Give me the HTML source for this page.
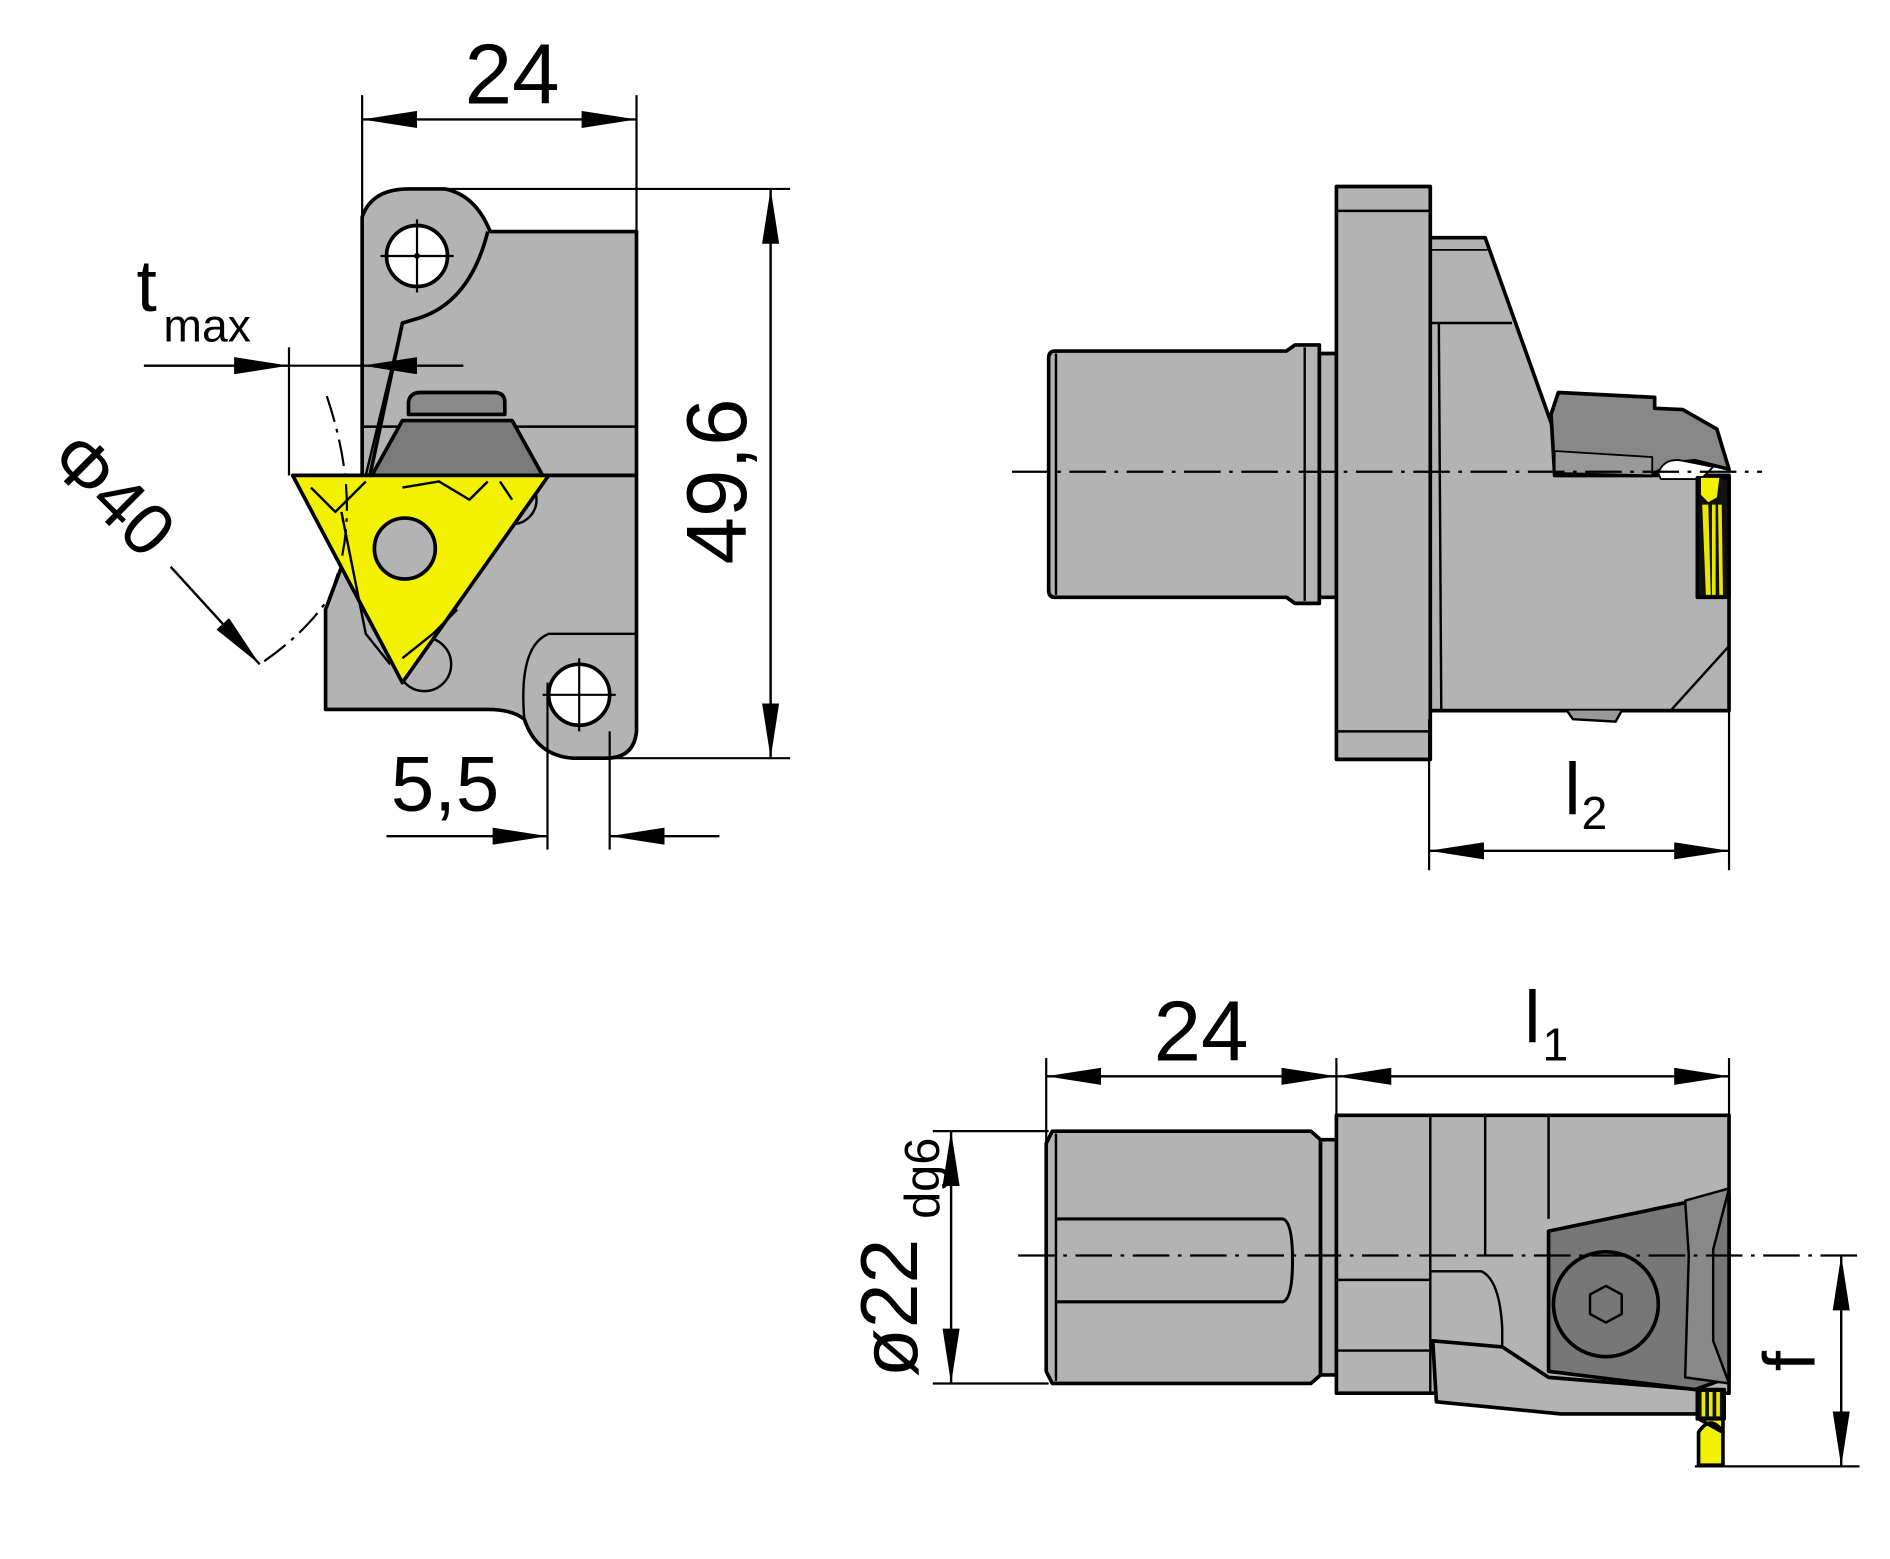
<!DOCTYPE html>
<html><head><meta charset="utf-8"><style>
html,body{margin:0;padding:0;background:#fff;}
svg{display:block;}
text{font-family:"Liberation Sans",sans-serif;fill:#000;}
</style></head><body>
<svg width="1890" height="1559" viewBox="0 0 1550 1279" preserveAspectRatio="none" xmlns="http://www.w3.org/2000/svg">
<defs>
<marker id="a" viewBox="0 0 45 14" refX="45" refY="7" markerWidth="45" markerHeight="14" markerUnits="userSpaceOnUse" orient="auto-start-reverse"><path d="M0,0 L45,7 L0,14z" fill="#000"/></marker>
</defs>
<g stroke="#000" stroke-width="3" stroke-linejoin="round">
<!-- ===== VIEW 1 ===== -->
<path d="M297,178 Q305,155 335,155 L365,155 Q390,160 402,190 L522,190 L522,600 Q520,622 497,622 L470,622 Q440,620 430,590 Q420,582 400,582 L267,582 L267,500 L297,420 Z" fill="#b3b3b3"/>
<path d="M400,190 Q385,250 340,262 L330,265 L297,420" fill="none"/>
<path d="M430,590 Q425,530 450,520 L522,520" fill="none" stroke-width="2"/>
<line x1="297" y1="350" x2="522" y2="350" stroke-width="2"/>
<line x1="297" y1="390" x2="522" y2="390"/>
<line x1="330" y1="265" x2="300" y2="390" stroke-width="2"/>
<circle cx="342" cy="210" r="25" fill="#fff"/>
<circle cx="475" cy="570" r="25" fill="#fff"/>
<circle cx="348" cy="545" r="22" fill="#b3b3b3" stroke-width="2"/>
<circle cx="420" cy="410" r="20" fill="#b3b3b3" stroke-width="2"/>
<path d="M335,330 Q336,322 345,322 L405,322 Q414,322 414,330 L414,340 L335,340Z" fill="#8a8a8a"/>
<path d="M330,345 L420,345 L445,390 L305,390Z" fill="#7a7a7a"/>
<path d="M240,390 L450,390 L330,560 Z" fill="#f2f200"/>
<path d="M255,400 L275,420 L300,395 M330,400 L360,395 L385,410 L400,395 M410,395 L420,410 M280,420 L300,520 L320,545 M330,540 L355,520 L375,500" fill="none" stroke-width="2"/>
<circle cx="332" cy="450" r="25" fill="#b3b3b3"/>
</g>
<g stroke="#000" stroke-width="1.8" fill="none">
<circle cx="342" cy="210" r="1.5" fill="#000"/>
<line x1="342" y1="180" x2="342" y2="240"/><line x1="312" y1="210" x2="372" y2="210"/>
<line x1="475" y1="540" x2="475" y2="600"/><line x1="445" y1="570" x2="505" y2="570"/>
<path d="M268,325 Q300,420 270,490 Q250,520 213,545" stroke-dasharray="22,6,3,6"/>
<line x1="297" y1="78" x2="297" y2="178"/><line x1="522" y1="78" x2="522" y2="190"/>
<line x1="297" y1="98" x2="522" y2="98" marker-start="url(#a)" marker-end="url(#a)" stroke-width="2"/>
<line x1="330" y1="155" x2="648" y2="155"/><line x1="497" y1="622" x2="648" y2="622"/>
<line x1="632" y1="155" x2="632" y2="622" marker-start="url(#a)" marker-end="url(#a)" stroke-width="2"/>
<line x1="237" y1="285" x2="237" y2="390"/>
<line x1="118" y1="300" x2="237" y2="300" marker-end="url(#a)" stroke-width="2"/>
<line x1="380" y1="300" x2="297" y2="300" marker-end="url(#a)" stroke-width="2"/>
<line x1="237" y1="300" x2="297" y2="300"/>
<line x1="140" y1="465" x2="213" y2="545" marker-end="url(#a)" stroke-width="2"/>
<line x1="449" y1="560" x2="449" y2="697"/><line x1="500" y1="600" x2="500" y2="697"/>
<line x1="317" y1="686" x2="449" y2="686" marker-end="url(#a)" stroke-width="2"/>
<line x1="590" y1="686" x2="500" y2="686" marker-end="url(#a)" stroke-width="2"/>
</g>
<text x="420" y="85" font-size="70" text-anchor="middle">24</text>
<text transform="translate(612,395) rotate(-90)" font-size="70" text-anchor="middle">49,6</text>
<text x="112" y="255" font-size="60">t</text>
<text x="134" y="280" font-size="38">max</text>
<text transform="translate(78,420) rotate(45)" font-size="60" text-anchor="middle">Φ40</text>
<text x="365" y="665" font-size="64" text-anchor="middle">5,5</text>

<!-- ===== VIEW 2 ===== -->
<g stroke="#000" stroke-width="3" fill="#b3b3b3" stroke-linejoin="round">
<path d="M865,288 L1055,288 L1062,283 L1082,283 L1082,495 L1062,495 L1055,490 L865,490 Q860,490 860,484 L860,294 Q860,288 865,288Z"/>
<line x1="866" y1="290" x2="866" y2="488" stroke-width="2"/>
<line x1="1070" y1="285" x2="1070" y2="493" stroke-width="2"/>
<rect x="1082" y="290" width="14" height="200"/>
<rect x="1096" y="153" width="77" height="470"/>
<line x1="1096" y1="173" x2="1173" y2="173" stroke-width="2"/>
<line x1="1096" y1="600" x2="1173" y2="600" stroke-width="2"/>
<path d="M1173,195 L1218,195 L1275,355 L1275,390 L1392,390 L1418,390 L1418,583 L1173,583Z"/>
<line x1="1173" y1="265" x2="1240" y2="265" stroke-width="2"/>
<line x1="1180" y1="265" x2="1182" y2="583" stroke-width="2"/>
<line x1="1173" y1="205" x2="1220" y2="205" stroke-width="1.5"/>
<path d="M1418,530 L1370,583" fill="none" stroke-width="2"/>
<path d="M1285,583 L1290,590 L1325,592 L1330,583" fill="#999" stroke-width="2"/>
<path d="M1278,322 L1357,326 L1357,335 L1380,336 L1408,352 L1418,385 L1390,378 L1370,380 L1355,390 L1275,390 L1272,340Z" fill="#888"/>
<path d="M1275,370 L1355,375 L1355,390 L1275,388Z" fill="#999" stroke-width="1.5"/>
<path d="M1360,388 Q1365,375 1380,378 L1405,383 L1395,393 L1362,393Z" fill="#fff" stroke-width="1.5"/>
<path d="M1392,392 L1418,392 L1418,490 L1392,490Z" fill="#111"/>
<path d="M1395,392 L1410,392 L1408,408 L1401,412 L1395,406Z" fill="#f2f200" stroke="none"/>
<path d="M1396,414 L1399,488 L1403,488 L1401,414Z M1404,414 L1404,488 L1407,488 L1407,414Z M1409,414 L1410,488 L1413,488 L1412,414Z" fill="#e8e800" stroke="none"/>
</g>
<g stroke="#000" stroke-width="1.8" fill="none">
<line x1="830" y1="387" x2="1445" y2="387" stroke-dasharray="30,7,3,7"/>
<line x1="1172" y1="590" x2="1172" y2="714"/><line x1="1418" y1="583" x2="1418" y2="714"/>
<line x1="1172" y1="698" x2="1418" y2="698" marker-start="url(#a)" marker-end="url(#a)" stroke-width="2"/>
</g>
<text x="1283" y="668" font-size="60">l</text>
<text x="1297" y="680" font-size="38">2</text>

<!-- ===== VIEW 3 ===== -->
<g stroke="#000" stroke-width="3" fill="#b3b3b3" stroke-linejoin="round">
<path d="M863,928 L1075,928 L1083,935 L1083,1128 L1075,1135 L863,1135 L858,1125 L858,938Z"/>
<line x1="866" y1="930" x2="866" y2="1133" stroke-width="2"/>
<path d="M866,1000 L1052,1000 Q1060,1002 1060,1034 Q1060,1066 1052,1068 L866,1068" fill="none" stroke-width="2.5"/>
<rect x="1083" y="935" width="13" height="193"/>
<rect x="1096" y="915" width="322" height="228"/>
<line x1="1173" y1="915" x2="1173" y2="1143" stroke-width="2"/>
<line x1="1218" y1="915" x2="1218" y2="1030" stroke-width="2"/>
<line x1="1270" y1="915" x2="1270" y2="1000" stroke-width="2"/>
<line x1="1096" y1="1050" x2="1173" y2="1050" stroke-width="2"/>
<line x1="1096" y1="1108" x2="1173" y2="1108" stroke-width="2"/>
<path d="M1173,1043 L1215,1043 Q1230,1050 1232,1090 L1232,1110" fill="none" stroke-width="2"/>
<path d="M1175,1100 L1232,1105 L1270,1130 L1393,1140 L1393,1160 L1280,1160 L1178,1150Z"/>
<path d="M1270,1010 L1390,985 L1418,980 L1418,1130 L1390,1140 L1270,1125Z" fill="#777"/>
<path d="M1382,985 L1418,975 L1405,1025 L1405,1100 L1418,1135 L1382,1130 L1385,1030Z" fill="#888" stroke-width="2"/>
<circle cx="1317" cy="1070" r="43" fill="#777"/>
<path d="M1317,1055 L1330,1062 L1330,1078 L1317,1085 L1304,1078 L1304,1062Z" fill="#777" stroke-width="2"/>
<rect x="1392" y="1140" width="22" height="24" fill="#111"/>
<path d="M1393,1164 L1413,1164 L1413,1202 L1393,1202 L1393,1175 Q1403,1160 1413,1175Z" fill="#f2f200"/>
<path d="M1397,1142 L1397,1162 M1403,1142 L1403,1162 M1409,1142 L1409,1162" stroke="#e8e800" stroke-width="3"/>
</g>
<g stroke="#000" stroke-width="1.8" fill="none">
<line x1="835" y1="1030" x2="1525" y2="1030" stroke-dasharray="30,7,3,7"/>
<line x1="858" y1="868" x2="858" y2="938"/><line x1="1096" y1="868" x2="1096" y2="915"/><line x1="1418" y1="868" x2="1418" y2="915"/>
<line x1="858" y1="883" x2="1096" y2="883" marker-start="url(#a)" marker-end="url(#a)" stroke-width="2"/>
<line x1="1096" y1="883" x2="1418" y2="883" marker-start="url(#a)" marker-end="url(#a)" stroke-width="2"/>
<line x1="765" y1="928" x2="860" y2="928"/><line x1="765" y1="1135" x2="860" y2="1135"/>
<line x1="780" y1="928" x2="780" y2="1135" marker-start="url(#a)" marker-end="url(#a)" stroke-width="2"/>
<line x1="1390" y1="1203" x2="1525" y2="1203"/>
<line x1="1510" y1="1030" x2="1510" y2="1203" marker-start="url(#a)" marker-end="url(#a)" stroke-width="2"/>
</g>
<text x="985" y="870" font-size="70" text-anchor="middle">24</text>
<text x="1250" y="855" font-size="60">l</text>
<text x="1265" y="870" font-size="38">1</text>
<text transform="translate(752,1130) rotate(-90)" font-size="66">ø22</text>
<text transform="translate(770,1000) rotate(-90)" font-size="40">dg6</text>
<text transform="translate(1488,1125) rotate(-90)" font-size="60">f</text>
</svg>
</body></html>
